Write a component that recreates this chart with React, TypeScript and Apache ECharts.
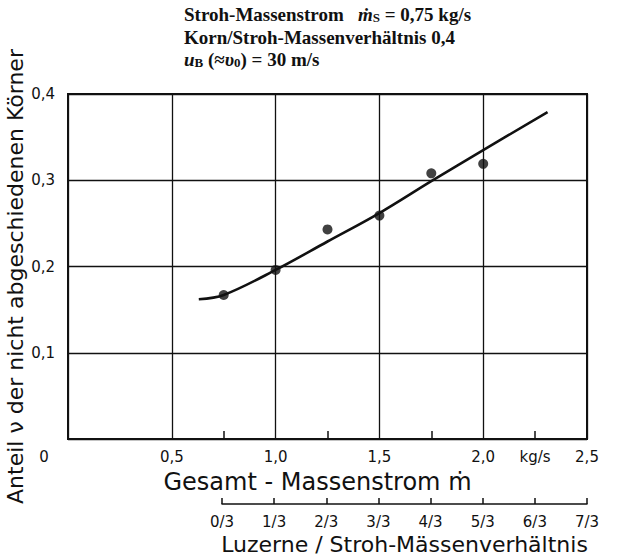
import React, { useEffect, useRef } from "react";
import * as echarts from "echarts";

// Curve (fitted line)
const CURVE_X = [0.63, 0.75, 1.0, 1.25, 1.5, 1.75, 2.0, 2.31];
const CURVE_Y = [0.162, 0.167, 0.196, 0.229, 0.262, 0.299, 0.335, 0.379];

// Measured points
const POINT_X = [0.75, 1.0, 1.25, 1.5, 1.75, 2.0];
const POINT_Y = [0.167, 0.196, 0.243, 0.259, 0.308, 0.319];

// Tick labels
const X_LABEL_VALUES = [0, 0.5, 1.0, 1.5, 2.0, 2.5];
const X_UNIT_VALUE = [2.25];
const X_MINOR_TICKS = [0.75, 1.25, 1.75, 2.25];
const Y_LABEL_VALUES = [0.1, 0.2, 0.3, 0.4];
const RATIO_LABELS = ["0/3", "1/3", "2/3", "3/3", "4/3", "5/3", "6/3", "7/3"];

const FONT = '"DejaVu Sans", sans-serif';
const SERIF = '"Liberation Serif", "Times New Roman", serif';
const INK = "#111";

const fmtComma = (v: number, d: number) => v.toFixed(d).replace(".", ",");

export default function App() {
  const ref = useRef<HTMLDivElement>(null);

  useEffect(() => {
    if (!ref.current) return;
    const chart = echarts.init(ref.current, null, { renderer: "svg" });

    const titleRich = {
      m: { font: `italic bold 19px ${SERIF}`, fill: INK, lineHeight: 20 },
      i: { font: `italic bold 19px ${SERIF}`, fill: INK, lineHeight: 20 },
      sub: { font: `bold 13px ${SERIF}`, fill: INK, padding: [7, 0, 0, 0], lineHeight: 13 },
    };

    chart.setOption({
      animation: false,
      backgroundColor: "#fff",
      grid: [
        {
          left: 68,
          right: 34,
          top: 94,
          bottom: 120,
          show: true,
          borderColor: INK,
          borderWidth: 2,
          backgroundColor: "transparent",
          outerBoundsMode: "none",
          containLabel: false,
        },
        { left: 222, right: 34, top: 504, height: 0, outerBoundsMode: "none", containLabel: false },
      ],
      xAxis: [
        {
          type: "value",
          gridIndex: 0,
          min: 0,
          max: 2.5,
          interval: 0.5,
          axisLine: { show: true, lineStyle: { color: INK, width: 2 } },
          axisTick: { show: false },
          axisLabel: {
            customValues: X_LABEL_VALUES,
            margin: 10,
            color: INK,
            fontSize: 15,
            fontFamily: FONT,
            formatter: (v: number) => (v === 0 ? "{z|0}" : fmtComma(v, 1)),
            rich: { z: { fontSize: 15, fontFamily: FONT, color: INK, padding: [0, 48, 0, 0] } },
          },
          splitLine: { show: true, lineStyle: { color: INK, width: 1.3 } },
          name: "Gesamt - Massenstrom ṁ",
          nameLocation: "middle",
          nameGap: 31,
          nameMoveOverlap: false,
          nameTextStyle: { fontSize: 24, fontFamily: FONT, color: INK, padding: [0, 20, 0, 0] },
        },
        {
          type: "value",
          gridIndex: 0,
          position: "bottom",
          min: 0,
          max: 2.5,
          interval: 0.25,
          axisLine: { show: false },
          axisTick: {
            show: true,
            inside: true,
            length: 8,
            customValues: X_MINOR_TICKS,
            lineStyle: { color: INK, width: 1.5 },
          },
          axisLabel: {
            customValues: X_UNIT_VALUE,
            margin: 10,
            color: INK,
            fontSize: 15,
            fontFamily: FONT,
            formatter: () => "kg/s",
          },
          splitLine: { show: false },
        },
        {
          type: "value",
          gridIndex: 1,
          position: "bottom",
          min: 0,
          max: 7,
          interval: 1,
          axisLine: { show: true, lineStyle: { color: INK, width: 1.5 } },
          axisTick: { show: true, inside: true, length: 6, lineStyle: { color: INK, width: 1.5 } },
          axisLabel: {
            margin: 10,
            color: INK,
            fontSize: 15,
            fontFamily: FONT,
            showMinLabel: true,
            showMaxLabel: true,
            formatter: (v: number) => RATIO_LABELS[Math.round(v)] ?? "",
          },
          splitLine: { show: false },
          name: "Luzerne / Stroh-Mässenverhältnis",
          nameLocation: "middle",
          nameGap: 29,
          nameMoveOverlap: false,
          nameTextStyle: { fontSize: 22, fontFamily: FONT, color: INK },
        },
      ],
      yAxis: [
        {
          type: "value",
          gridIndex: 0,
          min: 0,
          max: 0.4,
          interval: 0.1,
          axisLine: { show: true, lineStyle: { color: INK, width: 2 } },
          axisTick: { show: false },
          axisLabel: {
            customValues: Y_LABEL_VALUES,
            margin: 13,
            color: INK,
            fontSize: 15,
            fontFamily: FONT,
            formatter: (v: number) => fmtComma(v, 1),
          },
          splitLine: { show: true, lineStyle: { color: INK, width: 1.3 } },
          name: "Anteil ν der nicht abgeschiedenen Körner",
          nameLocation: "middle",
          nameGap: 42,
          nameMoveOverlap: false,
          nameTextStyle: { fontSize: 22, fontFamily: FONT, color: INK, padding: [0, 20, 0, 0] },
        },
        { type: "value", gridIndex: 1, show: false, min: 0, max: 1 },
      ],
      series: [
        {
          type: "line",
          xAxisIndex: 0,
          yAxisIndex: 0,
          data: CURVE_X.map((x, i) => [x, CURVE_Y[i]]),
          smooth: 0.35,
          showSymbol: false,
          symbol: "none",
          lineStyle: { color: INK, width: 2.6 },
          z: 3,
        },
        {
          type: "scatter",
          xAxisIndex: 0,
          yAxisIndex: 0,
          data: POINT_X.map((x, i) => [x, POINT_Y[i]]),
          symbol: "circle",
          symbolSize: 10,
          itemStyle: { color: INK },
          z: 4,
        },
      ],
      graphic: [
        {
          type: "text",
          x: 184,
          y: 14,
          style: {
            text: "Stroh-Massenstrom   {m|ṁ}{sub|S} = 0,75 kg/s",
            font: `bold 19px ${SERIF}`,
            fill: INK,
            verticalAlign: "middle",
            lineHeight: 20,
            rich: titleRich,
          },
        },
        {
          type: "text",
          x: 184,
          y: 37,
          style: {
            text: "Korn/Stroh-Massenverhältnis 0,4",
            font: `bold 19px ${SERIF}`,
            fill: INK,
            verticalAlign: "middle",
          },
        },
        {
          type: "text",
          x: 184,
          y: 59,
          style: {
            text: "{i|u}{sub|B} (≈{i|υ}{sub|0}) = 30 m/s",
            font: `bold 19px ${SERIF}`,
            fill: INK,
            verticalAlign: "middle",
            lineHeight: 20,
            rich: titleRich,
          },
        },
      ],
    });

    return () => chart.dispose();
  }, []);

  return (
    <div
      ref={ref}
      style={{ position: "fixed", left: 0, top: 0, width: 621, height: 559, background: "#fff" }}
    />
  );
}
